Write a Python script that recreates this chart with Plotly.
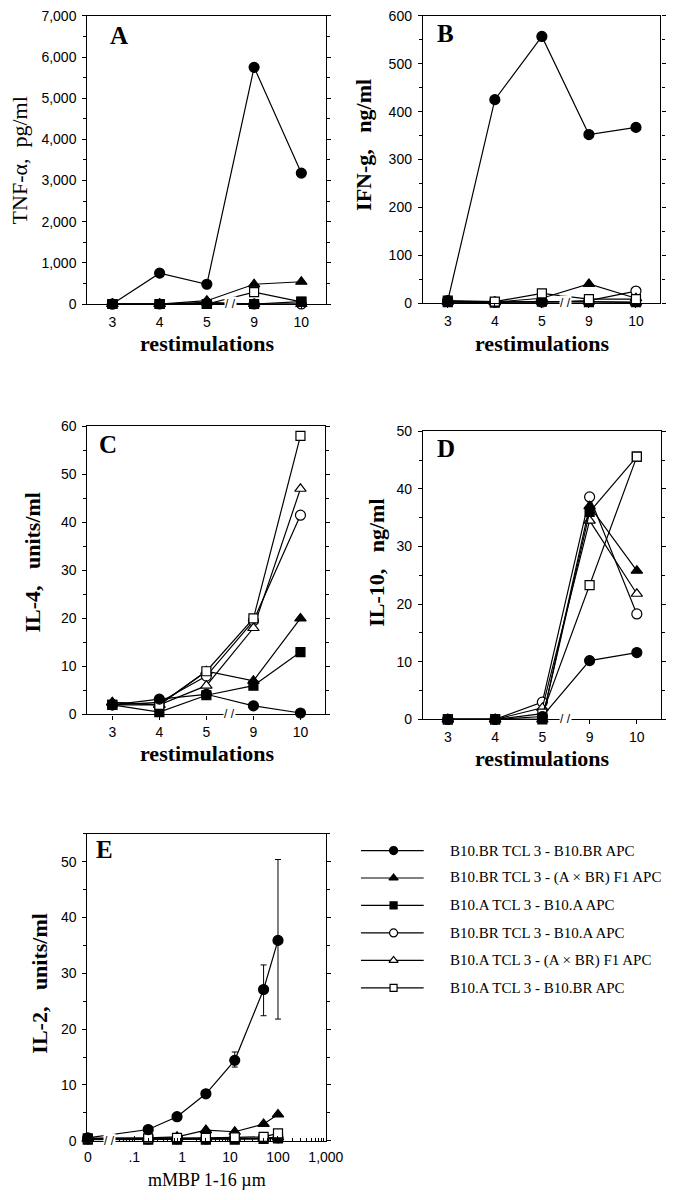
import plotly.graph_objects as go

W, H = 692, 1200

# ---------------- data ----------------
restim = ["3", "4", "5", "9", "10"]

series_names = [
    "B10.BR TCL 3 - B10.BR APC",
    "B10.BR TCL 3 - (A \u00d7 BR) F1 APC",
    "B10.A TCL 3 - B10.A APC",
    "B10.BR TCL 3 - B10.A APC",
    "B10.A TCL 3 - (A \u00d7 BR) F1 APC",
    "B10.A TCL 3 - B10.BR APC",
]

# Panel A: TNF-alpha, pg/ml
tnf_s1 = [0, 750, 480, 5750, 3180]
tnf_s2 = [0, 0, 80, 480, 540]
tnf_s3 = [0, 0, 0, 0, 60]
tnf_s4 = [0, 0, 20, 0, 0]
tnf_s5 = [0, 0, 40, 0, 0]
tnf_s6 = [0, 0, 0, 290, 50]

# Panel B: IFN-g, ng/ml
ifn_s1 = [5, 425, 557, 352, 367]
ifn_s2 = [3, 2, 10, 40, 10]
ifn_s3 = [2, 1, 3, 2, 2]
ifn_s4 = [3, 2, 2, 5, 25]
ifn_s5 = [3, 2, 3, 3, 1]
ifn_s6 = [5, 3, 20, 8, 8]

# Panel C: IL-4, units/ml
il4_s1 = [2, 3.2, 4.2, 1.8, 0.3]
il4_s2 = [2.5, 2, 9, 7, 20]
il4_s3 = [2, 0.5, 4, 6, 13]
il4_s4 = [2, 2.5, 8, 19.5, 41.5]
il4_s5 = [2.5, 2, 6, 18, 47]
il4_s6 = [2, 2, 9, 20, 58]

# Panel D: IL-10, ng/ml
il10_s1 = [0, 0, 0.5, 10.2, 11.6]
il10_s2 = [0, 0, 0, 37, 25.8]
il10_s3 = [0, 0, 0, 36, 45.6]
il10_s4 = [0, 0, 3, 38.6, 18.3]
il10_s5 = [0, 0, 2, 34.5, 21.8]
il10_s6 = [0, 0, 1, 23.3, 45.6]

# Panel E: IL-2, units/ml vs mMBP 1-16 concentration
mbp = [0, 0.195, 0.78, 3.125, 12.5, 50, 100]
il2_s1 = [0.5, 2.0, 4.3, 8.4, 14.4, 27.1, 35.9]
il2_s1_err_up = [0, 0, 0, 0, 1.5, 4.4, 14.5]
il2_s1_err_dn = [0, 0, 0, 0, 1.2, 4.7, 14.1]
il2_s2 = [0.4, 0.5, 0.7, 1.9, 1.6, 3.0, 4.7]
il2_s3 = [0.2, 0.2, 0.2, 0.2, 0.2, 0.3, 0.4]
il2_s4 = [0.3, 0.3, 0.3, 0.3, 0.4, 0.4, 0.5]
il2_s5 = [0.3, 0.3, 0.4, 0.4, 0.4, 0.5, 0.6]
il2_s6 = [0.4, 0.4, 0.5, 0.5, 0.6, 0.7, 1.3]

mbp_ticks = [0, 0.1, 1, 10, 100, 1000]
mbp_ticktext = ["0", ".1", "1", "10", "100", "1,000"]
mbp_minor = [0.05, 0.06, 0.07, 0.08, 0.09, 0.2, 0.3, 0.4, 0.5, 0.6, 0.7, 0.8, 0.9,
             2, 3, 4, 5, 6, 7, 8, 9, 20, 30, 40, 50, 60, 70, 80, 90,
             200, 300, 400, 500, 600, 700, 800, 900]
ZERO_POS = 0.0107  # where "0" sits on the broken log axis

# ---------------- styles ----------------
SYM = ["circle", "triangle-up", "square", "circle", "triangle-up", "square"]
FILL = ["black", "black", "black", "white", "white", "white"]
MSIZE = [10, 10, 9, 10, 10, 9]
DRAW_ORDER = [3, 4, 2, 1, 5, 0]  # indices into series lists
DRAW_ORDER_A = [3, 4, 5, 2, 1, 0]

SERIF = "Liberation Serif"
SANS = "Liberation Sans"
TICKFONT = dict(family=SANS, size=14, color="black")


def px_x(p):
    return p / W


def px_y(p):
    return 1 - p / H


fig = go.Figure()


def add_series(xvals, ys, xa, ya, errs=None, order=DRAW_ORDER):
    for i in order:
        kw = {}
        if errs is not None and i == 0:
            kw["error_y"] = dict(type="data", symmetric=False, array=errs[0],
                                 arrayminus=errs[1], color="black",
                                 thickness=1, width=3)
        fig.add_trace(go.Scatter(
            x=xvals, y=ys[i], mode="lines+markers", xaxis=xa, yaxis=ya,
            line=dict(color="black", width=1.2),
            marker=dict(symbol=SYM[i], size=MSIZE[i], color=FILL[i],
                        line=dict(color="black", width=1.2)),
            cliponaxis=False, showlegend=False, name=series_names[i], **kw))


add_series(restim, [tnf_s1, tnf_s2, tnf_s3, tnf_s4, tnf_s5, tnf_s6], "x", "y",
           order=DRAW_ORDER_A)
add_series(restim, [ifn_s1, ifn_s2, ifn_s3, ifn_s4, ifn_s5, ifn_s6], "x2", "y2")
add_series(restim, [il4_s1, il4_s2, il4_s3, il4_s4, il4_s5, il4_s6], "x3", "y3")
add_series(restim, [il10_s1, il10_s2, il10_s3, il10_s4, il10_s5, il10_s6], "x4", "y4")
mbp_pos = [ZERO_POS if v == 0 else v for v in mbp]
add_series(mbp_pos, [il2_s1, il2_s2, il2_s3, il2_s4, il2_s5, il2_s6], "x5", "y5",
           errs=(il2_s1_err_up, il2_s1_err_dn))

# legend samples on a hidden axis
for i in range(6):
    fig.add_trace(go.Scatter(
        x=[0, 0.52, 1], y=[i, i, i], mode="lines", xaxis="x6", yaxis="y6",
        line=dict(color="black", width=1.2), showlegend=False, hoverinfo="skip"))
    fig.add_trace(go.Scatter(
        x=[0.52], y=[i], mode="markers", xaxis="x6", yaxis="y6",
        marker=dict(symbol=SYM[i], size=MSIZE[i] - 2, color=FILL[i],
                    line=dict(color="black", width=1.2)),
        showlegend=False, hoverinfo="skip", cliponaxis=False))


# ---------------- axes ----------------
def yax(dom_px, rng, dtick, minor, fmt=None):
    d = dict(domain=[px_y(dom_px[1]), px_y(dom_px[0])], range=rng,
             showline=True, linecolor="black", linewidth=1.2, mirror="ticks",
             ticks="outside", ticklen=4, tickwidth=1, tickcolor="black",
             dtick=dtick, tick0=0, showgrid=False, zeroline=False,
             tickfont=TICKFONT, ticklabelstandoff=3,
             minor=dict(ticks="outside", ticklen=3, dtick=minor, tick0=0,
                        tickcolor="black", showgrid=False))
    if fmt:
        d["tickformat"] = fmt
    return d


def xcat(dom_px, anchor):
    return dict(domain=[px_x(dom_px[0]), px_x(dom_px[1])], type="category",
                range=[-0.53, 4.52], anchor=anchor, showline=True,
                linecolor="black", linewidth=1.2, mirror=True,
                ticks="outside", ticklen=4, tickcolor="black",
                ticklabelstandoff=1,
                showgrid=False, zeroline=False, tickfont=TICKFONT)


layout_axes = dict(
    xaxis=xcat((87, 333), "y"),
    yaxis=dict(yax((8, 300), [0, 7000], 1000, 500, ","), anchor="x"),
    xaxis2=xcat((433, 678), "y2"),
    yaxis2=dict(yax((8, 299), [0, 600], 100, 50), anchor="x2"),
    xaxis3=xcat((87, 332), "y3"),
    yaxis3=dict(yax((424, 716), [0, 60], 10, 5), anchor="x3"),
    xaxis4=xcat((433, 679), "y4"),
    yaxis4=dict(yax((429, 721), [0, 50], 10, 5), anchor="x4"),
    xaxis5=dict(domain=[px_x(87), px_x(333)], type="log", range=[-1.98, 3.0],
                anchor="y5", showline=True, linecolor="black", linewidth=1.2,
                mirror=True, ticks="inside", ticklen=5, tickcolor="black",
                tickmode="array", ticklabelstandoff=3,
                tickvals=[ZERO_POS if v == 0 else v for v in mbp_ticks],
                ticktext=mbp_ticktext, showgrid=False, zeroline=False,
                tickfont=TICKFONT,
                minor=dict(ticks="inside", ticklen=3, tickmode="array",
                           tickvals=mbp_minor, tickcolor="black", showgrid=False)),
    yaxis5=dict(yax((837, 1148), [0, 55], 10, 5), anchor="x5"),
    xaxis6=dict(domain=[px_x(369), px_x(434)], range=[0, 1], anchor="y6",
                visible=False),
    yaxis6=dict(domain=[px_y(1007), px_y(840)], range=[5.5, -0.5], anchor="x6",
                visible=False),
)

annotations = []


def txt(text, x, y, size, bold=False, angle=0, family=SERIF, **kw):
    t = "<b>%s</b>" % text if bold else text
    a = dict(text=t, x=px_x(x), y=px_y(y), xref="paper", yref="paper",
             showarrow=False, textangle=angle,
             font=dict(family=family, size=size, color="black"),
             xanchor="center", yanchor="middle")
    a.update(kw)
    annotations.append(a)


NB = "\u00a0"
# panel letters
txt("A", 120, 28, 25, bold=True)
txt("B", 456, 26, 25, bold=True)
txt("C", 108, 442, 25, bold=True)
txt("D", 457, 446, 25, bold=True)
txt("E", 105, 853, 25, bold=True)

# y titles
txt("TNF-\u03b1," + NB * 2 + "pg/ml", 17, 154, 22, angle=-90)
txt("IFN-g," + NB * 3 + "ng/ml", 371, 139, 22, bold=True, angle=-90)
txt("IL-4," + NB * 3 + "units/ml", 30, 562, 22, bold=True, angle=-90)
txt("IL-10," + NB * 3 + "ng/ml", 385, 562, 22, bold=True, angle=-90)
txt("IL-2," + NB * 3 + "units/ml", 38, 988, 22, bold=True, angle=-90)

# x titles
txt("restimulations", 210, 340, 22, bold=True)
txt("restimulations", 556, 340, 22, bold=True)
txt("restimulations", 210, 756, 22, bold=True)
txt("restimulations", 556, 761, 22, bold=True)
txt("mMBP 1-16 \u00b5m", 210, 1188, 18)

# axis breaks
for xa, ya in [("x", "y"), ("x2", "y2"), ("x3", "y3"), ("x4", "y4")]:
    annotations.append(dict(text="/ /", x=2.5, y=0, xref=xa, yref=ya,
                            showarrow=False, bgcolor="white",
                            font=dict(family=SANS, size=12, color="black"),
                            xanchor="center", yanchor="middle", borderpad=0))
annotations.append(dict(text="/ /", x=-1.52, y=0, xref="x5", yref="y5",
                        showarrow=False, bgcolor="white",
                        font=dict(family=SANS, size=12, color="black"),
                        xanchor="center", yanchor="middle", borderpad=0))

# legend labels
for i, nm in enumerate(series_names):
    annotations.append(dict(text=nm, x=px_x(459), y=i, xref="paper", yref="y6",
                            showarrow=False, xanchor="left", yanchor="middle",
                            font=dict(family=SERIF, size=15, color="black")))

fig.update_layout(
    width=W, height=H, margin=dict(l=0, r=0, t=0, b=0),
    paper_bgcolor="white", plot_bgcolor="white",
    showlegend=False, annotations=annotations, **layout_axes)

fig.write_html("out.html",
               config={"displayModeBar": False},
               post_script="document.body.style.margin='0px';"
                           "document.body.style.overflow='hidden';")
